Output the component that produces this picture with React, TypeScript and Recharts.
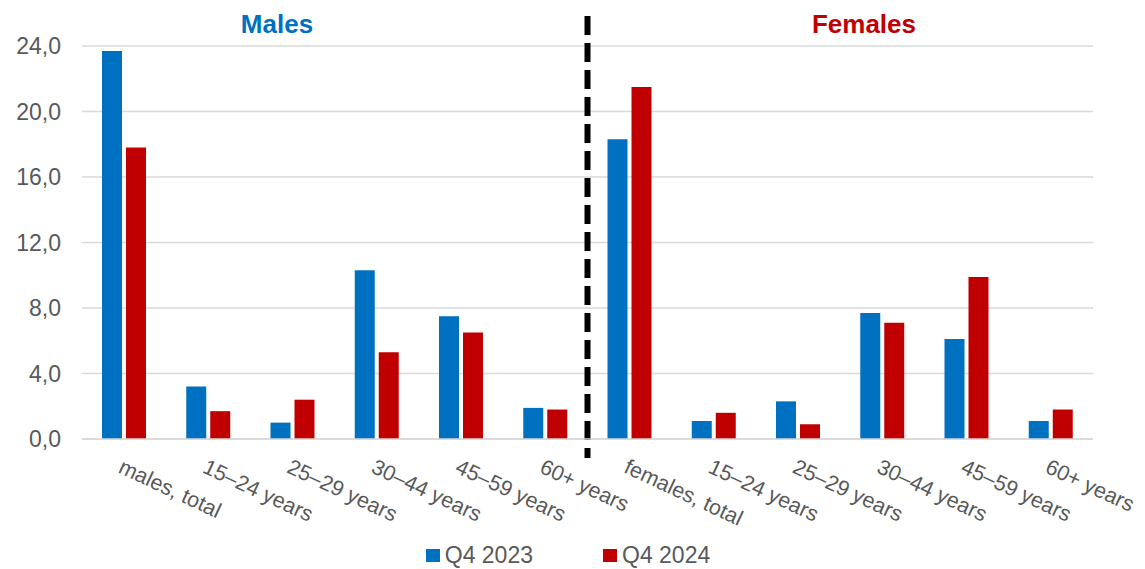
import React from 'react';
import { BarChart, Bar, XAxis, YAxis, CartesianGrid, Legend, ReferenceLine } from 'recharts';

const categories = [
  'males, total', '15–24 years', '25–29 years', '30–44 years', '45–59 years', '60+ years',
  'females, total', '15–24 years', '25–29 years', '30–44 years', '45–59 years', '60+ years',
];
const q42023 = [23.7, 3.2, 1.0, 10.3, 7.5, 1.9, 18.3, 1.1, 2.3, 7.7, 6.1, 1.1];
const q42024 = [17.8, 1.7, 2.4, 5.3, 6.5, 1.8, 21.5, 1.6, 0.9, 7.1, 9.9, 1.8];
const yTicks = [0, 4, 8, 12, 16, 20, 24];
const seriesNames = ['Q4 2023', 'Q4 2024'];
// dashed line sits at the start of the "females, total" band
// (duplicate category names make the axis index based)
const dividerIndex = categories.indexOf('females, total');

const BLUE = '#0070C0';
const RED = '#C00000';
const GREY = '#595959';
const FONT = '"Liberation Sans", Arial, sans-serif';

const data = categories.map((c, i) => ({ name: c, a: q42023[i], b: q42024[i] }));

const fmt = (v: number) => v.toFixed(1).replace('.', ',');

function XTick({ x, y, payload }: any) {
  const bx = x - 7;
  const by = y + 33;
  return (
    <text
      x={bx}
      y={by}
      textAnchor="start"
      fill={GREY}
      fontSize={21.5}
      fontFamily={FONT}
      transform={`rotate(25, ${bx}, ${by})`}
    >
      {payload.value}
    </text>
  );
}

function Divider(props: any) {
  const { x1, y1, y2 } = props;
  const top = Math.min(y1, y2) - 30;
  const bottom = Math.max(y1, y2) + 19;
  return (
    <line x1={x1} x2={x1} y1={top} y2={bottom} stroke="#000" strokeWidth={6} strokeDasharray="19 8" />
  );
}

function LegendContent() {
  const items = [
    { label: seriesNames[0], color: BLUE },
    { label: seriesNames[1], color: RED },
  ];
  return (
    <div style={{ display: 'flex', justifyContent: 'center', alignItems: 'center', height: 28, paddingLeft: 43 }}>
      {items.map((it, i) => (
        <div key={i} style={{ display: 'flex', alignItems: 'center', marginLeft: i ? 70 : 0 }}>
          <span style={{ width: 14, height: 13, background: it.color, display: 'inline-block', marginRight: 5 }} />
          <span style={{ fontFamily: FONT, fontSize: 23, color: GREY, lineHeight: '28px' }}>{it.label}</span>
        </div>
      ))}
    </div>
  );
}

export default function App() {
  return (
    <div style={{ position: 'absolute', left: 0, top: 0, width: 1145, height: 569, background: '#fff' }}>
      <BarChart
        width={1145}
        height={569}
        data={data}
        margin={{ top: 46, right: 52, bottom: 0, left: 0 }}
        barSize={20}
        barGap={4}
      >
        <CartesianGrid vertical={false} stroke="#d9d9d9" strokeWidth={1.5} />
        <XAxis
          dataKey="name"
          interval={0}
          height={102}
          tickSize={0}
          tickMargin={0}
          tick={<XTick />}
          axisLine={{ stroke: '#d9d9d9', strokeWidth: 1.5 }}
          tickLine={false}
        />
        <YAxis
          width={82}
          domain={[0, 24]}
          ticks={yTicks}
          tickFormatter={fmt}
          tickSize={0}
          tickMargin={21}
          axisLine={false}
          tickLine={false}
          tick={{ fill: GREY, fontSize: 23, fontFamily: FONT }}
        />
        <Legend verticalAlign="bottom" content={<LegendContent />} />
        <Bar dataKey="a" name={seriesNames[0]} fill={BLUE} isAnimationActive={false} />
        <Bar dataKey="b" name={seriesNames[1]} fill={RED} isAnimationActive={false} />
        <ReferenceLine x={dividerIndex} position="start" shape={<Divider />} />
      </BarChart>
      <svg width={1145} height={60} style={{ position: 'absolute', left: 0, top: 0, pointerEvents: 'none' }}>
        <text x={277} y={33} textAnchor="middle" fill={BLUE} fontSize={26} fontWeight="bold" fontFamily={FONT}>
          Males
        </text>
        <text x={864} y={33} textAnchor="middle" fill={RED} fontSize={26} fontWeight="bold" fontFamily={FONT}>
          Females
        </text>
      </svg>
    </div>
  );
}
